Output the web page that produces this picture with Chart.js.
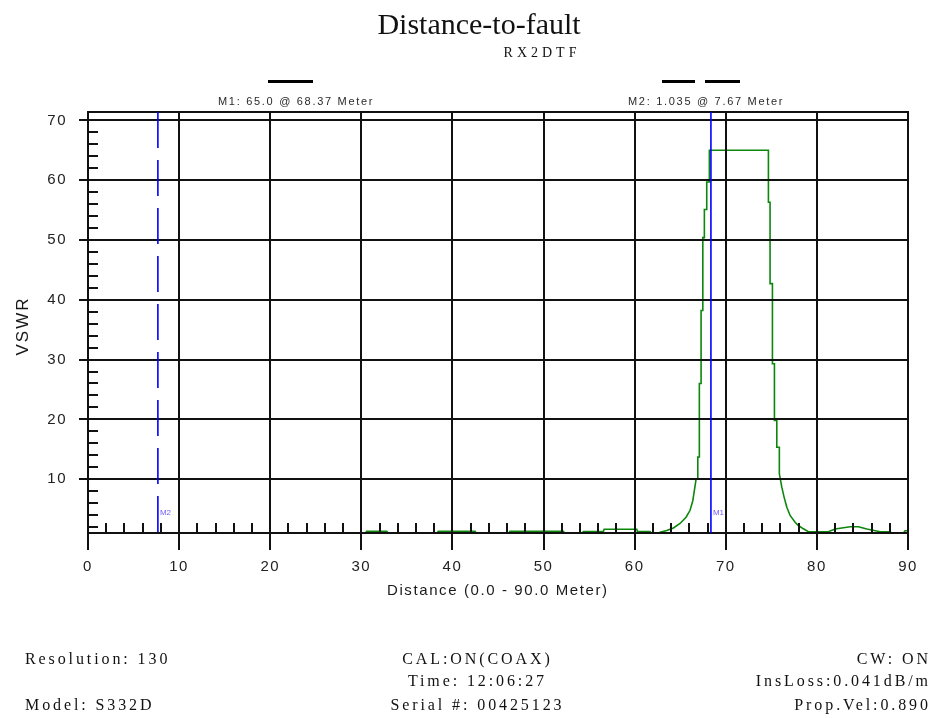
<!DOCTYPE html>
<html>
<head>
<meta charset="utf-8">
<title>Distance-to-fault</title>
<script src="https://cdn.jsdelivr.net/npm/chart.js@4.4.1/dist/chart.umd.min.js"></script>
<style>
  html, body { margin: 0; padding: 0; background: #ffffff; }
  #wrap { width: 932px; height: 718px; position: relative; }
</style>
</head>
<body>
<div id="wrap"><canvas id="dtf" width="932" height="718"></canvas></div>
<script>
// Trace: distance along the line (m) and measured VSWR
const distance = [
  0, 7.67, 15, 30.45, 30.59, 32.79, 32.93, 38.31, 38.45, 42.48, 42.62,
  46.18, 46.32, 52.17, 52.31, 54.23, 54.37, 56.57, 56.65, 60.23, 60.3,
  61.69, 61.83, 62.6, 62.87, 63.52, 64.25, 64.98, 65.64, 66.08, 66.38,
  66.55, 66.74, 66.93, 66.93, 67.10, 67.10, 67.29, 67.29, 67.48, 67.48,
  67.65, 67.65, 67.91, 67.91, 68.20, 68.20, 74.68, 74.68, 74.86, 74.86,
  75.12, 75.12, 75.34, 75.34, 75.60, 75.60, 75.88, 75.88, 76.15, 76.40,
  76.70, 77.06, 77.61, 77.97, 78.52, 79.07, 81.26, 82.00, 83.65, 84.56,
  85.48, 86.94, 88.04, 88.2, 89.5, 89.68, 90
];
const vswr = [
  1.0, 1.035, 1.0, 1.0, 1.3, 1.3, 1.0, 1.0, 1.3, 1.3, 1.0,
  1.0, 1.3, 1.3, 1.0, 1.0, 1.25, 1.25, 1.62, 1.62, 1.25,
  1.25, 1.0, 1.0, 1.15, 1.4, 1.84, 2.6, 3.64, 4.8, 6.4,
  8.1, 10.0, 10.0, 13.7, 13.7, 26.0, 26.0, 38.2, 38.2, 50.4,
  50.4, 55.1, 55.1, 59.7, 59.7, 65.0, 65.0, 56.3, 56.3, 42.7,
  42.7, 29.3, 29.3, 19.8, 19.8, 15.35, 15.35, 10.9, 8.66, 7.0,
  5.3, 3.93, 2.8, 2.25, 1.7, 1.22, 1.22, 1.67, 2.05, 2.05,
  1.67, 1.22, 1.22, 1.0, 1.0, 1.38, 1.38
];

// Axis ticks
const xTickValues = [0, 10, 20, 30, 40, 50, 60, 70, 80, 90];
const yTickValues = [10, 20, 30, 40, 50, 60, 70];
const minorStep = 2;

// Markers
const markerNames = ['M1', 'M2'];
const markerDistance = [68.37, 7.67];
const markerReading = ['65.0', '1.035'];

// Header and instrument settings
const titleText = 'Distance-to-fault';
const subtitleText = 'RX2DTF';
const xAxisTitle = 'Distance (0.0 - 90.0 Meter)';
const yAxisTitle = 'VSWR';
const footerLeft = ['Resolution: 130', '', 'Model: S332D'];
const footerCenter = ['CAL:ON(COAX)', 'Time: 12:06:27', 'Serial #: 00425123'];
const footerRight = ['CW: ON', 'InsLoss:0.041dB/m', 'Prop.Vel:0.890'];

const INK = '#111111';
const SANS = '"Liberation Sans", Arial, sans-serif';
const SERIF = '"Liberation Serif", "Times New Roman", serif';
const markerDash = { M1: [], M2: [36, 12] };

const points = distance.map((d, i) => ({ x: d, y: vswr[i] }));

function spacedText(ctx, text, x, y, align, spacing) {
  ctx.letterSpacing = spacing + 'px';
  let w = ctx.measureText(text).width - spacing;
  let sx = x;
  if (align === 'center') sx = x - w / 2;
  else if (align === 'right') sx = x - w;
  ctx.textAlign = 'left';
  ctx.fillText(text, sx, y);
  ctx.letterSpacing = '0px';
}

const decorations = {
  id: 'decorations',
  beforeDraw(chart) {
    const c = chart.ctx;
    c.save();
    c.fillStyle = '#ffffff';
    c.fillRect(0, 0, chart.width, chart.height);
    c.restore();
    c.letterSpacing = '1.5px';
  },
  afterDraw(chart) {
    const c = chart.ctx;
    const a = chart.chartArea;
    const xs = chart.scales.x;
    const ys = chart.scales.y;
    c.save();
    c.letterSpacing = '0px';

    // frame: top, right and the distance axis line (VSWR = 1)
    const yBase = ys.getPixelForValue(ys.min);
    c.strokeStyle = INK;
    c.lineWidth = 2;
    c.beginPath();
    c.moveTo(a.left, Math.round(a.top));
    c.lineTo(Math.round(a.right), Math.round(a.top));
    c.lineTo(Math.round(a.right), yBase);
    c.stroke();
    c.lineWidth = 2.2;
    c.beginPath();
    c.moveTo(a.left - 1, yBase);
    c.lineTo(Math.round(a.right) + 1, yBase);
    c.stroke();

    // minor ticks pointing into the plot
    c.lineWidth = 2;
    c.beginPath();
    for (let v = minorStep; v < xs.max; v += minorStep) {
      if (xTickValues.includes(v)) continue;
      const px = Math.round(xs.getPixelForValue(v));
      c.moveTo(px, yBase);
      c.lineTo(px, yBase - 10);
    }
    for (let v = minorStep; v < ys.max; v += minorStep) {
      if (yTickValues.includes(v)) continue;
      const py = Math.round(ys.getPixelForValue(v));
      c.moveTo(a.left, py);
      c.lineTo(a.left + 10, py);
    }
    c.stroke();

    // marker lines and tags
    markerNames.forEach((name, i) => {
      const px = xs.getPixelForValue(markerDistance[i]);
      c.strokeStyle = '#0000ff';
      c.lineWidth = 1.6;
      c.setLineDash(markerDash[name]);
      c.beginPath();
      c.moveTo(px, a.top);
      c.lineTo(px, yBase);
      c.stroke();
      c.setLineDash([]);
      c.fillStyle = '#6f5cff';
      c.font = '8px ' + SANS;
      c.textAlign = 'left';
      c.textBaseline = 'middle';
      c.fillText(name, px + 2, yBase - 20);
    });

    // marker readouts above the plot
    const readoutX = [218, 628];
    c.fillStyle = '#2a2a2a';
    c.font = '11px ' + SANS;
    c.textBaseline = 'alphabetic';
    markerNames.forEach((name, i) => {
      spacedText(c, name + ': ' + markerReading[i] + ' @ ' + markerDistance[i] + ' Meter', readoutX[i], 105, 'left', 1.7);
    });
    c.fillStyle = '#000000';
    c.fillRect(268, 80, 45, 3);
    c.fillRect(662, 80, 33, 3);
    c.fillRect(705, 80, 35, 3);

    // title and subtitle
    c.fillStyle = '#111111';
    c.font = '30px ' + SERIF;
    spacedText(c, titleText, 479, 34, 'center', 0);
    c.font = '14px ' + SERIF;
    spacedText(c, subtitleText, 540, 57, 'center', 4);

    // axis titles
    c.fillStyle = '#1a1a1a';
    c.font = '15px ' + SANS;
    spacedText(c, xAxisTitle, 497, 595, 'center', 1.6);
    c.save();
    c.translate(28, 327);
    c.rotate(-Math.PI / 2);
    c.font = '17px ' + SANS;
    spacedText(c, yAxisTitle, 0, 0, 'center', 2);
    c.restore();

    // instrument settings
    c.fillStyle = '#111111';
    c.font = '16px ' + SERIF;
    const rows = [664, 686, 710];
    rows.forEach((y, r) => {
      if (footerLeft[r]) spacedText(c, footerLeft[r], 25, y, 'left', 2.9);
      if (footerCenter[r]) spacedText(c, footerCenter[r], 476, y, 'center', 2.9);
      if (footerRight[r]) spacedText(c, footerRight[r], 928, y, 'right', 2.9);
    });
    c.restore();
  }
};

new Chart(document.getElementById('dtf'), {
  type: 'line',
  data: {
    datasets: [{
      label: 'VSWR',
      data: points,
      borderColor: '#0c870c',
      borderWidth: 1.6,
      pointRadius: 0,
      tension: 0,
      fill: false
    }]
  },
  options: {
    responsive: false,
    animation: false,
    devicePixelRatio: 1,
    layout: { padding: { top: 112, right: 24, left: 0, bottom: 0 } },
    plugins: { legend: { display: false }, tooltip: { enabled: false }, title: { display: false } },
    scales: {
      x: {
        type: 'linear',
        min: 0,
        max: 90,
        afterBuildTicks(scale) { scale.ticks = xTickValues.map(v => ({ value: v })); },
        afterFit(scale) { scale.height = 185; },
        grid: { color: INK, lineWidth: 2, tickLength: 17, drawTicks: true, z: 1 },
        border: { display: false },
        ticks: { color: '#222222', font: { family: SANS, size: 15 }, padding: 8, maxRotation: 0 }
      },
      y: {
        type: 'linear',
        min: 1,
        max: 71.4,
        afterBuildTicks(scale) { scale.ticks = yTickValues.map(v => ({ value: v })); },
        afterFit(scale) { scale.width = 88; },
        grid: { color: INK, lineWidth: 2, tickLength: 9, drawTicks: true, z: 1 },
        border: { display: true, color: INK, width: 2, z: 1 },
        ticks: { color: '#222222', font: { family: SANS, size: 15 }, padding: 12 }
      }
    }
  },
  plugins: [decorations]
});
</script>
</body>
</html>
